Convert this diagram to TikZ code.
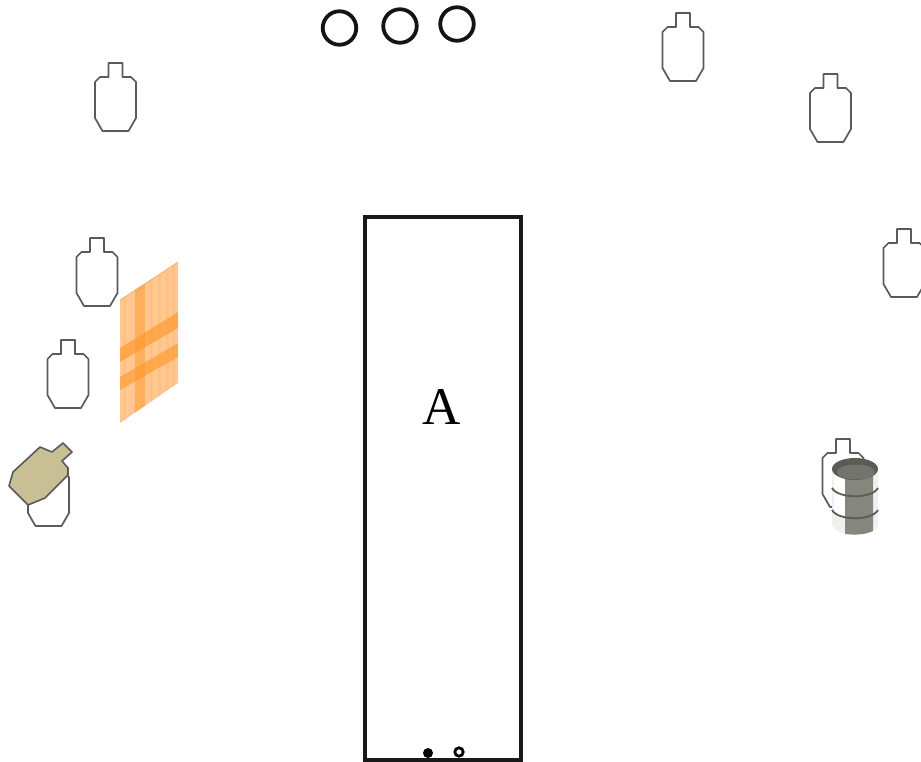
\documentclass[tikz,border=0pt]{standalone}
\usepackage{fontspec}
\setmainfont{Liberation Serif}
\definecolor{tline}{HTML}{5A5A5A}
\definecolor{panelbase}{HTML}{FFC893}
\definecolor{panelband}{HTML}{FF9A2E}
\definecolor{noshoot}{HTML}{C8BF95}
\definecolor{barrelband}{HTML}{85877D}
\definecolor{barreltop}{HTML}{5A5B55}
\tikzset{
  x=1pt,y=-1pt,
  targetline/.style={draw=tline,line width=1.7pt,fill=white,line join=round},
  pics/target/.style={code={
    \path[targetline] (-7,0) -- (7,0) -- (7,14) -- (15.5,14) -- (20.5,19) -- (20.5,55) -- (13,68) -- (-13,68) -- (-20.5,55) -- (-20.5,19) -- (-15.5,14) -- (-7,14) -- cycle;
  }},
  ring/.style={draw=black!92,line width=3.8pt,circle,minimum size=33.5pt,inner sep=0pt},
}
\begin{document}
\begin{tikzpicture}
\useasboundingbox (0,0) rectangle (921,762);
% targets
\pic at (115.5,63) {target};
\pic at (683,13) {target};
\pic at (830.5,74) {target};
\pic at (904,229) {target};
\pic at (97,238) {target};
\pic at (68,340) {target};
\pic at (48.5,458) {target};
\pic at (843,439) {target};
% poppers
\node[ring] (p1) at (339.5,28) {};
\node[ring] (p2) at (400,26) {};
\node[ring] (p3) at (457,24) {};
% shooting box
\draw[line width=3.4pt,draw=black!90] (365,217) rectangle (521,760);
\node[font=\fontsize{53}{53}\selectfont,text=black] (lab) at (442,407) {A};
\fill[black] (428,753) circle (5);
\draw[black,line width=2.8pt] (459,752) circle (4.2);
% orange panel
\begin{scope}
\clip (120,300) -- (178,262) -- (178,383) -- (120,423) -- cycle;
\fill[panelbase] (110,250) rectangle (190,430);
\foreach \xx in {123,150,158,166,172}{\fill[panelband,opacity=.15] (\xx,250) rectangle (\xx+3,430);}
\fill[panelband,opacity=.55] (135,250) rectangle (145,430);
\fill[panelband,opacity=.7] (120,348) -- (178,312) -- (178,328) -- (120,362) -- cycle;
\fill[panelband,opacity=.65] (120,377) -- (178,343) -- (178,357) -- (120,390) -- cycle;
\end{scope}
\draw[panelband!70!brown,opacity=.5,line width=.8pt] (120,300) -- (178,262);
% no-shoot
\draw[draw=tline,line width=1.6pt,fill=noshoot,line join=round] (9,486) -- (13,472) -- (40,447) -- (52,452) -- (63,443) -- (72,452) -- (62,461) -- (68,468) -- (68,475) -- (45,498) -- (28,505) -- cycle;
% barrel
\fill[black!6] (832,469) -- (832,525) .. controls (838,538) and (872,538) .. (878,525) -- (878,469) -- cycle;
\fill[white] (834,469) rectangle (845,515);
\fill[barrelband] (845,469) -- (845,534) .. controls (855,535) and (865,535) .. (873,531) -- (873,469) -- cycle;
\fill[barreltop] (855,469) ellipse[x radius=23,y radius=11];
\fill[barreltop!85] (856,472) ellipse[x radius=19,y radius=7.5];
\draw[barreltop,line width=1.8pt] (832,488) .. controls (838,499) and (872,499) .. (878,488);
\draw[barreltop,line width=1.8pt] (832,510) .. controls (838,521) and (872,521) .. (878,510);
\end{tikzpicture}
\end{document}
